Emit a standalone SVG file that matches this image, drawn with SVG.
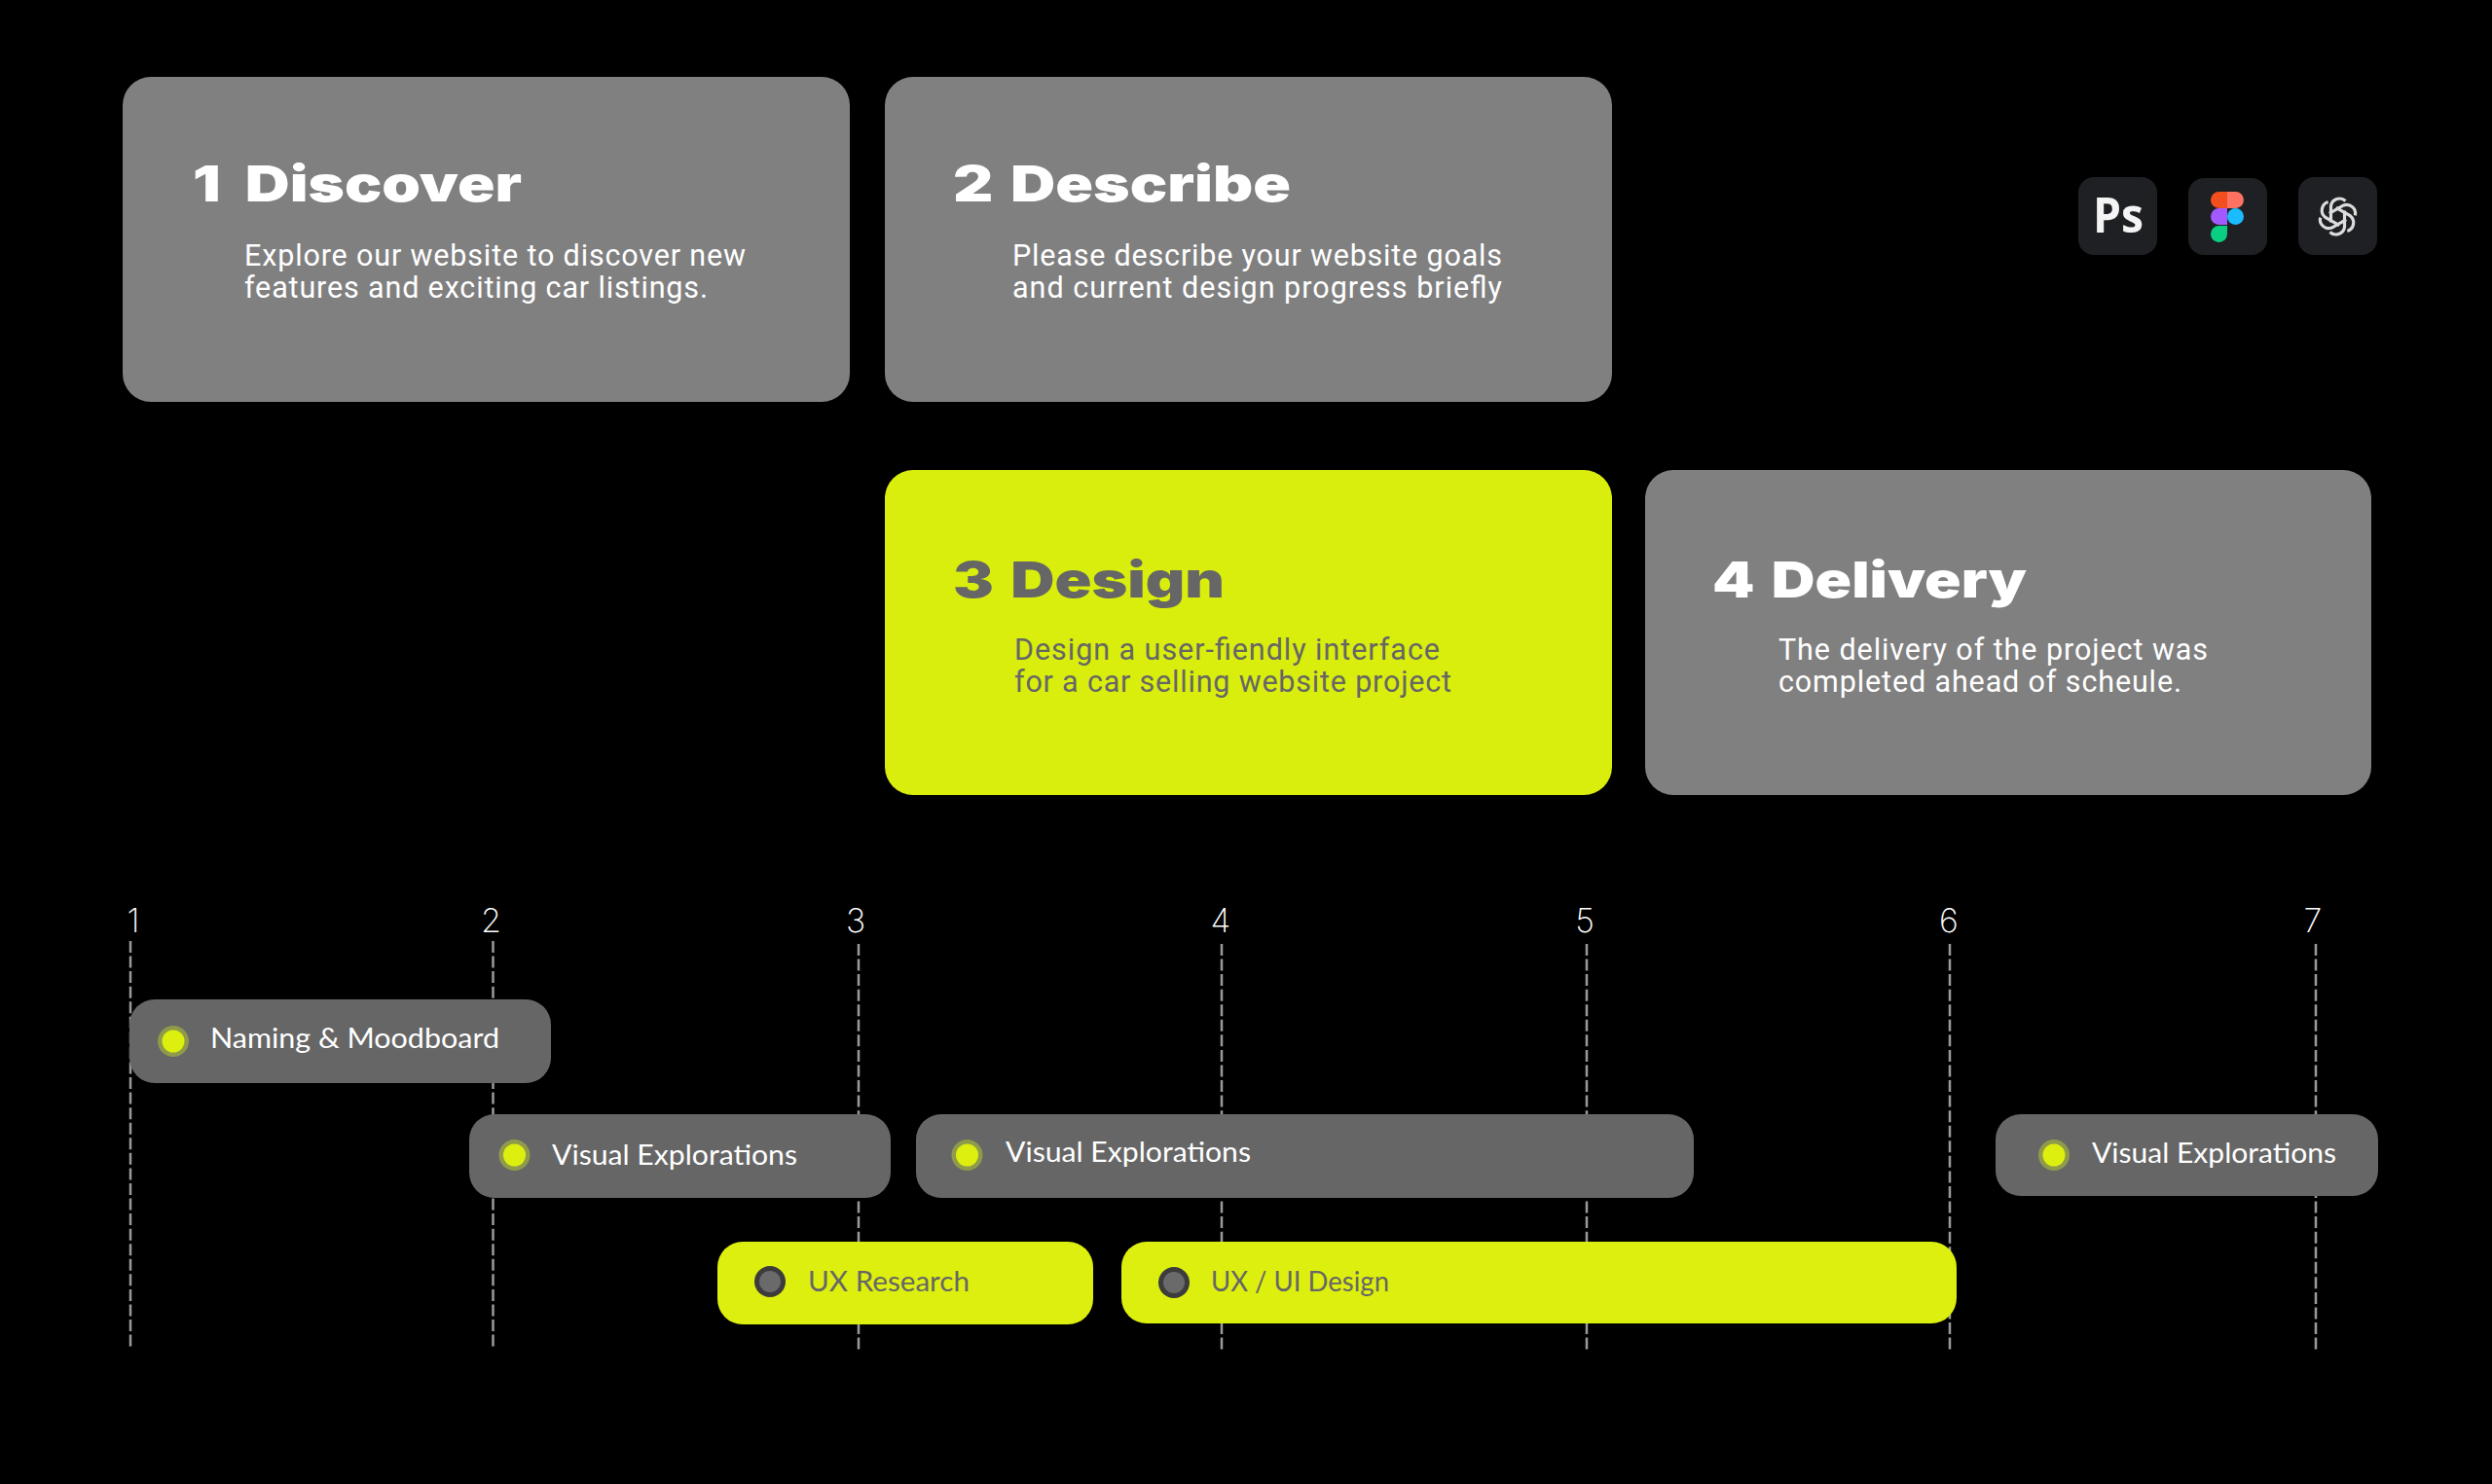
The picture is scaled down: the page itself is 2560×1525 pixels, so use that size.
<svg xmlns="http://www.w3.org/2000/svg" width="2560" height="1525" viewBox="0 0 2560 1525">
<defs>
<path id="lobe" d="M-7 6V-11A9 9 0 0 1 8 -16"/>
</defs>
<style>
.card{fill:#808080}
.cardy{fill:#d9ee0d}
.h{font-family:Inter,"Liberation Sans",sans-serif;font-weight:900;font-size:51px;fill:#fff;word-spacing:4px}
.hd{fill:#666}
.b{font-family:Roboto,"Liberation Sans",sans-serif;font-size:30.5px;fill:#fff}
.bd{fill:#666}
.pill{fill:#666}
.pilly{fill:#ddef0f}
.l{font-family:Lato,"Noto Sans",sans-serif;font-size:28px;fill:#fff}
.ld{fill:#666}
.n{font-family:Inter,"Noto Sans",sans-serif;font-weight:200;font-size:34px;fill:#fff;text-anchor:middle}
.dl{stroke:#9a9a9a;stroke-width:2.5;stroke-dasharray:12 3.56;fill:none}
.do{fill:#8f9a4a}
.di{fill:#ddef0f}
.dod{fill:#3c3c3c}
.did{fill:#6a6a6a}
.ic{fill:#1f2023}
.k{fill:none;stroke:#dcdcdc;stroke-width:3.2}
</style>
<rect width="2560" height="1525" fill="#000"/>
<g id="connectors">
<line class="dl" x1="134" y1="967" x2="134" y2="1384"/>
<line class="dl" x1="506.500" y1="967" x2="506.500" y2="1384"/>
<line class="dl" x1="882" y1="970" x2="882" y2="1387"/>
<line class="dl" x1="1255" y1="970" x2="1255" y2="1387"/>
<line class="dl" x1="1630" y1="970" x2="1630" y2="1387"/>
<line class="dl" x1="2003" y1="970" x2="2003" y2="1387"/>
<line class="dl" x1="2379" y1="970" x2="2379" y2="1387"/>
</g>
<g id="card-1"><rect class="card" x="126" y="79" width="747" height="334" rx="29"/>
<text class="h" x="198" y="207" textLength="338" lengthAdjust="spacingAndGlyphs" style="word-spacing:10px">1 Discover</text>
<text class="b" x="251" y="273" textLength="515" lengthAdjust="spacing">Explore our website to discover new</text>
<text class="b" x="251" y="306" textLength="476" lengthAdjust="spacing">features and exciting car listings.</text></g>
<g id="card-2"><rect class="card" x="909" y="79" width="747" height="334" rx="29"/>
<text class="h" x="979" y="207" textLength="347" lengthAdjust="spacingAndGlyphs">2 Describe</text>
<text class="b" x="1040" y="273" textLength="503" lengthAdjust="spacing">Please describe your website goals</text>
<text class="b" x="1040" y="306" textLength="503" lengthAdjust="spacing">and current design progress briefly</text></g>
<g id="card-3"><rect class="cardy" x="909" y="483" width="747" height="334" rx="29"/>
<text class="h hd" x="979" y="614" textLength="279" lengthAdjust="spacingAndGlyphs">3 Design</text>
<text class="b bd" x="1042" y="678" textLength="437" lengthAdjust="spacing">Design a user-fiendly interface</text>
<text class="b bd" x="1042" y="711" textLength="449" lengthAdjust="spacing">for a car selling website project</text></g>
<g id="card-4"><rect class="card" x="1690" y="483" width="746" height="334" rx="29"/>
<text class="h" x="1759" y="614" textLength="323" lengthAdjust="spacingAndGlyphs">4 Delivery</text>
<text class="b" x="1827" y="678" textLength="441" lengthAdjust="spacing">The delivery of the project was</text>
<text class="b" x="1827" y="711" textLength="414" lengthAdjust="spacing">completed ahead of scheule.</text></g>
<g id="icon-ps"><rect class="ic" x="2135" y="182" width="81" height="80" rx="16"/>
<text x="2150" y="239" font-family="Open Sans,sans-serif" font-weight="700" font-size="50" fill="#f4f4f4" textLength="52" lengthAdjust="spacingAndGlyphs">Ps</text></g>
<g id="icon-figma"><rect class="ic" x="2248" y="183" width="81" height="79" rx="16"/>
<path d="M2288 197h-8.500a8.500 8.500 0 0 0 0 17h8.500z" fill="#f24e1e"/>
<path d="M2288 197h8.500a8.500 8.500 0 0 1 0 17h-8.500z" fill="#ff7262"/>
<path d="M2288 214h-8.500a8.500 8.500 0 0 0 0 17h8.500z" fill="#a259ff"/>
<circle cx="2296.500" cy="222.500" r="8.500" fill="#1abcfe"/>
<path d="M2288 232h-8.500a8.500 8.500 0 1 0 8.500 8.500z" fill="#0acf83"/></g>
<g id="icon-openai"><rect class="ic" x="2361" y="182" width="81" height="80" rx="16"/>
<g class="k" transform="translate(2401.500 222.500)">
<use href="#lobe"/>
<use href="#lobe" transform="rotate(60)"/>
<use href="#lobe" transform="rotate(120)"/>
<use href="#lobe" transform="rotate(180)"/>
<use href="#lobe" transform="rotate(240)"/>
<use href="#lobe" transform="rotate(300)"/>
</g></g>
<g id="tick-1"><text class="n" x="137" y="958">1</text></g>
<g id="tick-2"><text class="n" x="504.500" y="958">2</text></g>
<g id="tick-3"><text class="n" x="879" y="958">3</text></g>
<g id="tick-4"><text class="n" x="1254" y="958">4</text></g>
<g id="tick-5"><text class="n" x="1628" y="958">5</text></g>
<g id="tick-6"><text class="n" x="2002" y="958">6</text></g>
<g id="tick-7"><text class="n" x="2376" y="958">7</text></g>
<g id="bar-naming"><rect class="pill" x="133" y="1027" width="433" height="86" rx="26"/>
<circle class="do" cx="178" cy="1070" r="16"/><circle class="di" cx="178" cy="1070" r="11.500"/>
<text class="l" x="216" y="1077" textLength="297" lengthAdjust="spacingAndGlyphs">Naming &amp; Moodboard</text></g>
<g id="bar-visual-1"><rect class="pill" x="482" y="1145" width="433" height="86" rx="26"/>
<circle class="do" cx="528.500" cy="1187" r="16"/><circle class="di" cx="528.500" cy="1187" r="11.500"/>
<text class="l" x="567" y="1197" textLength="252" lengthAdjust="spacingAndGlyphs">Visual Explorations</text></g>
<g id="bar-visual-2"><rect class="pill" x="941" y="1145" width="799" height="86" rx="26"/>
<circle class="do" cx="993.500" cy="1187" r="16"/><circle class="di" cx="993.500" cy="1187" r="11.500"/>
<text class="l" x="1033" y="1194" textLength="252" lengthAdjust="spacingAndGlyphs">Visual Explorations</text></g>
<g id="bar-visual-3"><rect class="pill" x="2050" y="1145" width="393" height="84" rx="26"/>
<circle class="do" cx="2110" cy="1187" r="16"/><circle class="di" cx="2110" cy="1187" r="11.500"/>
<text class="l" x="2149" y="1195" textLength="251" lengthAdjust="spacingAndGlyphs">Visual Explorations</text></g>
<g id="bar-ux-research"><rect class="pilly" x="737" y="1276" width="386" height="85" rx="26"/>
<circle class="dod" cx="791" cy="1317" r="16"/><circle class="did" cx="791" cy="1317" r="11"/>
<text class="l ld" x="830" y="1327" textLength="166" lengthAdjust="spacingAndGlyphs">UX Research</text></g>
<g id="bar-ux-ui"><rect class="pilly" x="1152" y="1276" width="858" height="84" rx="26"/>
<circle class="dod" cx="1206" cy="1318" r="16"/><circle class="did" cx="1206" cy="1318" r="11"/>
<text class="l ld" x="1244" y="1327" textLength="183" lengthAdjust="spacingAndGlyphs">UX / UI Design</text></g>
</svg>
